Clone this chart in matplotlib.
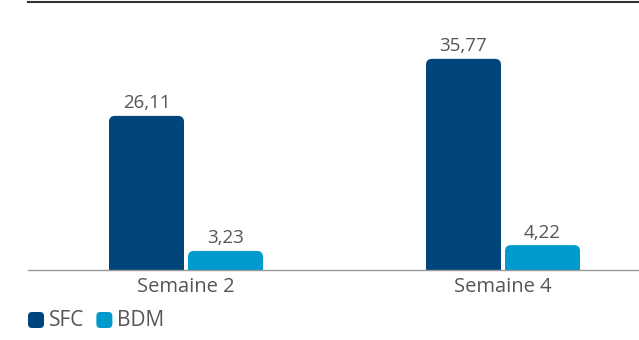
import matplotlib
matplotlib.use("Agg")
import matplotlib.pyplot as plt
from matplotlib.patches import FancyBboxPatch
import numpy as np

weeks = ["Semaine 2", "Semaine 4"]
series = ["SFC", "BDM"]
values = {
    "SFC": [26.11, 35.77],
    "BDM": [3.23, 4.22],
}
colors = {"SFC": "#00467c", "BDM": "#009ace"}

plt.rcParams["font.family"] = ["Open Sans", "DejaVu Sans"]
text_color = "#555555"

W, H = 639, 340
fig = plt.figure(figsize=(W / 100, H / 100), dpi=100)
ax_l, ax_b, ax_w, ax_h = 28, 70, 611, 268
ax = fig.add_axes([ax_l / W, ax_b / H, ax_w / W, ax_h / H])

x = np.arange(len(weeks))
step_px = 317
ax.set_xlim(-158 / step_px, (ax_w - 158) / step_px)
ymax = 45.4
ax.set_ylim(0, ymax)

bar_w = 75 / step_px
gap = 4 / step_px
radius_px = 6
x_per_px = 1 / step_px
y_per_px = ymax / ax_h

for i, name in enumerate(series):
    offset = (i - 0.5) * (bar_w + gap)
    for xi, v in zip(x, values[name]):
        left = xi + offset - bar_w / 2
        # extend below zero so only the top corners show rounded
        patch = FancyBboxPatch(
            (left, -2), bar_w, v + 2,
            boxstyle=f"round,pad=0,rounding_size={radius_px * x_per_px}",
            mutation_aspect=y_per_px / x_per_px,
            facecolor=colors[name], edgecolor="none", clip_on=True,
        )
        ax.add_patch(patch)
        ax.text(xi + offset, v + 0.6, f"{v:.2f}".replace(".", ","),
                ha="center", va="bottom", fontsize=13.5, color=text_color)

for side in ["left", "right"]:
    ax.spines[side].set_visible(False)
ax.spines["top"].set_color("#333333")
ax.spines["top"].set_linewidth(1.5)
ax.spines["bottom"].set_color("#999999")
ax.spines["bottom"].set_linewidth(1)
ax.set_yticks([])
ax.set_xticks(x)
ax.set_xticklabels(weeks, fontsize=14.5, color=text_color)
ax.tick_params(axis="x", length=0, pad=5)

# legend with rounded swatches
lx = 28
for name in series:
    sw = FancyBboxPatch(
        (lx / W, 12 / H), 16 / W, 16 / H,
        boxstyle=f"round,pad=0,rounding_size={4 / W}",
        mutation_aspect=W / H,
        transform=fig.transFigure, facecolor=colors[name], edgecolor="none",
    )
    fig.add_artist(sw)
    t = fig.text((lx + 21) / W, 20 / H, name, ha="left", va="center",
                 fontsize=15, color=text_color)
    fig.canvas.draw()
    bb = t.get_window_extent()
    lx = bb.x1 + 12

fig.savefig("out.png", dpi=100)
